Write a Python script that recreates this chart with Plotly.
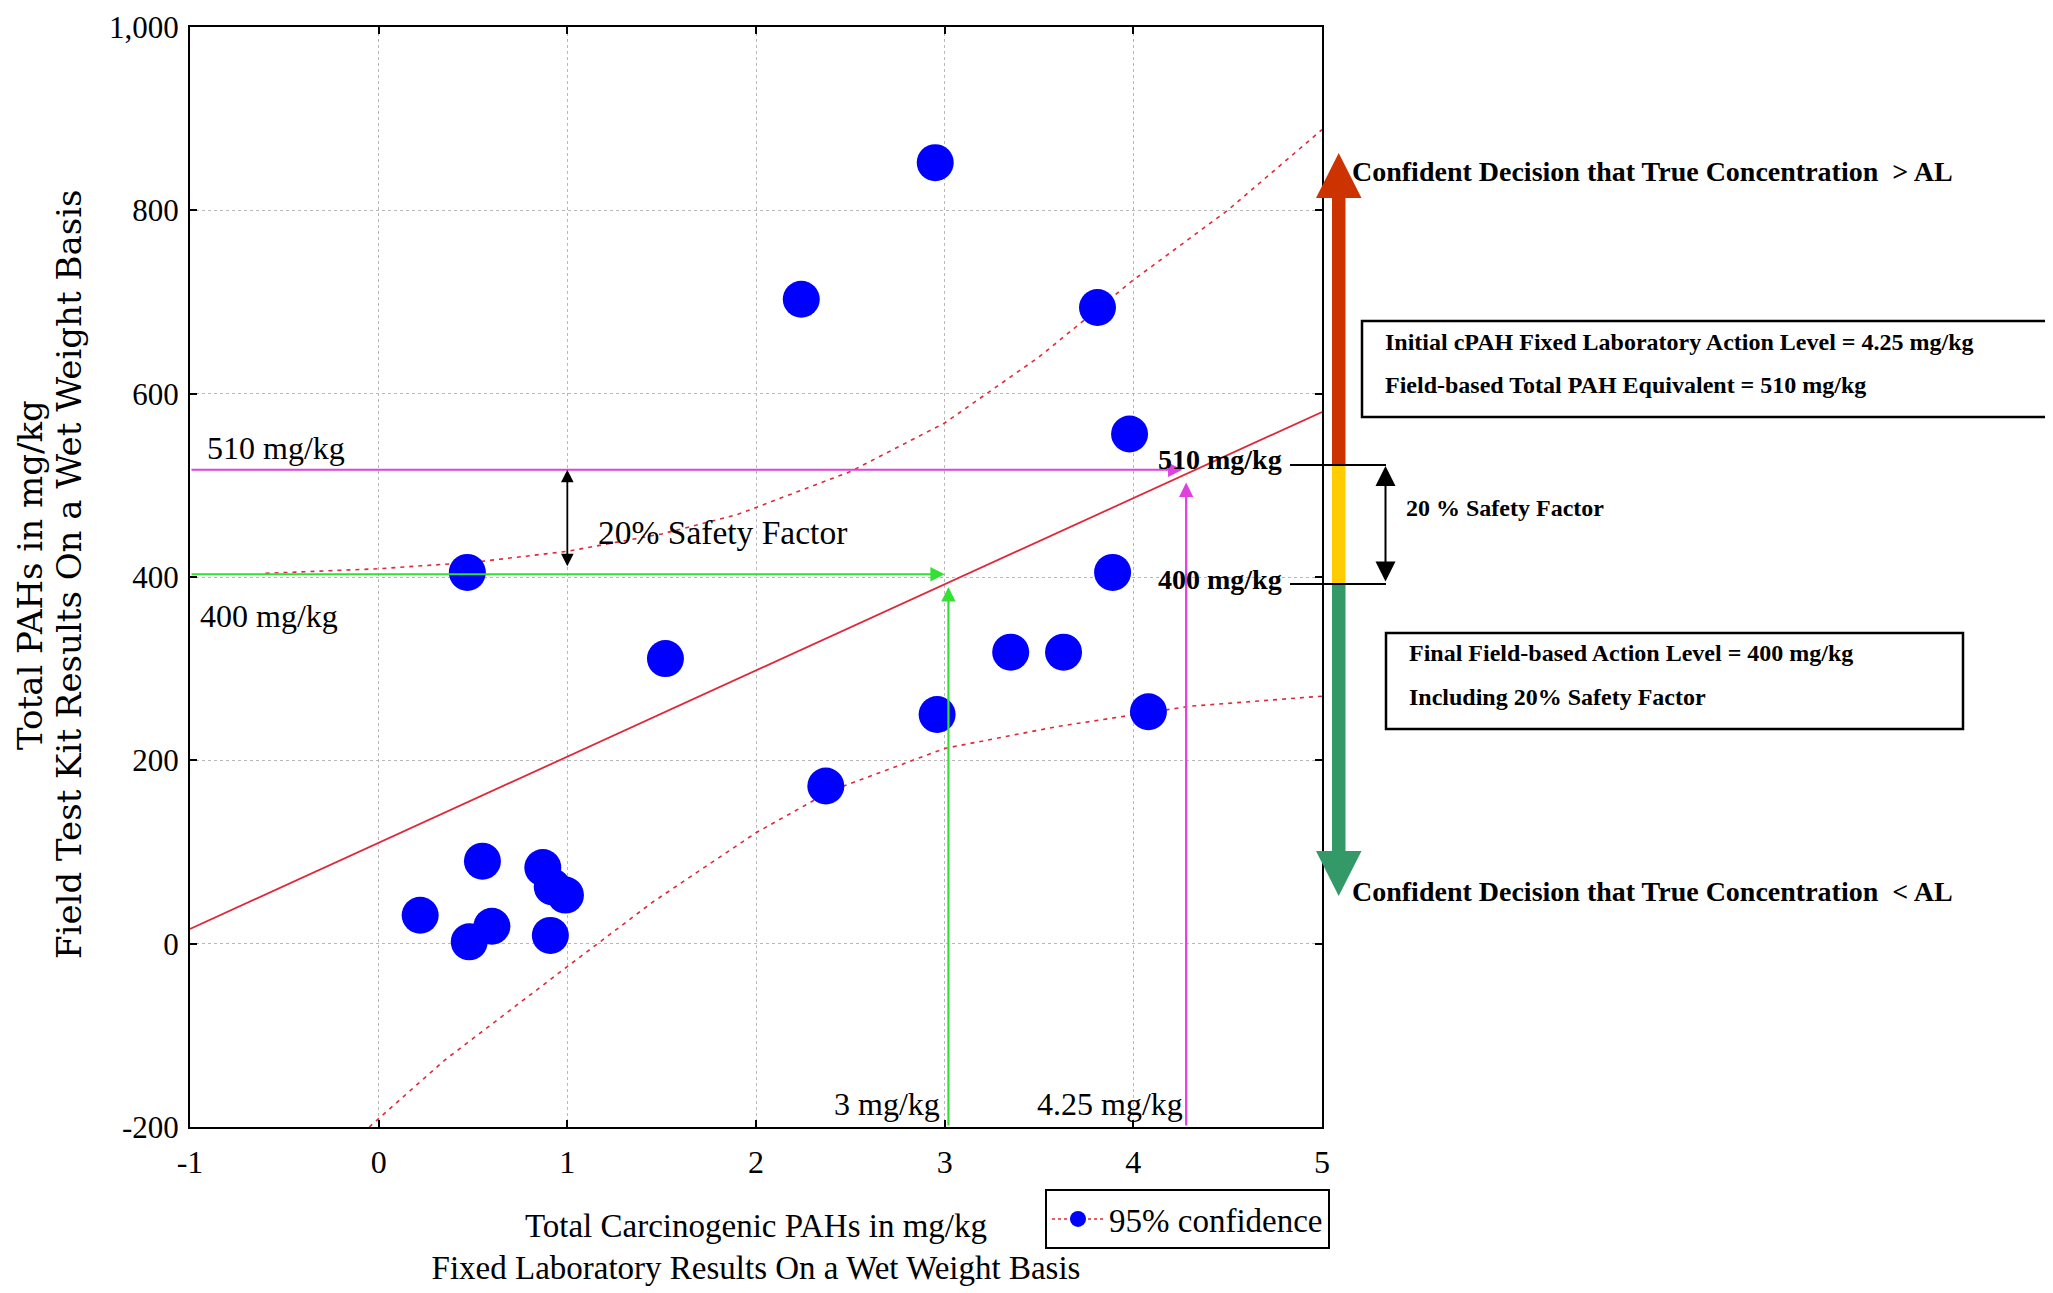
import plotly.graph_objects as go

# ---------------- data ----------------
lab_cpah = [2.95, 2.24, 3.81, 3.98, 0.47, 3.89, 1.52, 3.35, 3.63, 2.96,
            4.08, 2.37, 0.55, 0.87, 0.92, 0.99, 0.22, 0.60, 0.48, 0.91]
field_pah = [852, 703, 694, 556, 405, 405, 311, 318, 318, 250,
             253, 172, 90, 83, 62, 53, 31, 19, 2, 9]

fit_x = [-1, 5]
fit_y = [16, 580]

upper_x = [-0.6, 0.0, 0.5, 1.0, 1.5, 1.9, 2.5, 3.0, 3.5, 4.0, 4.5, 5.0]
upper_y = [404, 409, 416, 428, 447, 468, 515, 568, 640, 724, 800, 888]

lower_x = [-0.05, 0.35, 1.0, 1.45, 2.0, 2.4, 3.0, 3.6, 4.3, 5.0]
lower_y = [-200, -127, -25, 45, 121, 167, 213, 237, 259, 270]

# reference levels as drawn
field_levels = [517, 403]          # labelled 510 mg/kg and 400 mg/kg
field_level_labels = ["510 mg/kg", "400 mg/kg"]
lab_levels = [4.28, 3.02]          # labelled 4.25 mg/kg and 3 mg/kg
lab_level_labels = ["4.25 mg/kg", "3 mg/kg"]
safety_arrow_x = 1.0
safety_arrow_low = 410

x_ticks = [-1, 0, 1, 2, 3, 4, 5]
x_tick_text = ["-1", "0", "1", "2", "3", "4", "5"]
y_ticks = [-200, 0, 200, 400, 600, 800, 1000]
y_tick_text = ["-200", "0", "200", "400", "600", "800", "1,000"]

# ---------------- layout helpers ----------------
W, H = 2053, 1293
OFF = 8  # page body margin
def px(X):
    return (X - OFF) / W
def py(Y):
    return 1 - (Y - OFF) / H

SERIF = "Liberation Serif, Times New Roman, serif"
MAG = "#e040e0"
GRN = "#33e033"
RED = "#dd2a3a"

fig = go.Figure()

fig.add_trace(go.Scatter(x=upper_x, y=upper_y, mode="lines",
                         line=dict(color=RED, width=1.6, dash="4px,5px"),
                         showlegend=False, hoverinfo="skip"))
fig.add_trace(go.Scatter(x=lower_x, y=lower_y, mode="lines",
                         line=dict(color=RED, width=1.6, dash="4px,5px"),
                         showlegend=False, hoverinfo="skip"))
fig.add_trace(go.Scatter(x=fit_x, y=fit_y, mode="lines",
                         line=dict(color=RED, width=1.8),
                         showlegend=False, hoverinfo="skip"))
fig.add_trace(go.Scatter(x=lab_cpah, y=field_pah, mode="markers",
                         marker=dict(color="#0000ff", size=37),
                         showlegend=False))
# legend entry
fig.add_trace(go.Scatter(x=[None], y=[None], mode="lines+markers",
                         name="95% confidence",
                         line=dict(color=RED, width=1.5, dash="dot"),
                         marker=dict(color="#0000ff", size=16)))

annotations = []
h_colors = [MAG, GRN]
for lvl, lx, col in zip(field_levels, lab_levels, h_colors):
    annotations.append(dict(x=lx - 0.02, y=lvl, ax=-1, ay=lvl, xref="x", yref="y",
                            axref="x", ayref="y", text="", showarrow=True,
                            arrowhead=2, arrowsize=1.3, arrowwidth=2.2,
                            arrowcolor=col))
    annotations.append(dict(x=lx, y=lvl - 14, ax=lx, ay=-200, xref="x", yref="y",
                            axref="x", ayref="y", text="", showarrow=True,
                            arrowhead=2, arrowsize=1.3, arrowwidth=2.2,
                            arrowcolor=col))
annotations.append(dict(x=safety_arrow_x, y=field_levels[0], ax=safety_arrow_x,
                        ay=safety_arrow_low, xref="x", yref="y", axref="x", ayref="y",
                        text="", showarrow=True, arrowhead=2, arrowsize=1.4,
                        arrowwidth=1.8, arrowside="end+start", arrowcolor="black"))

fs = 32
annotations += [
    dict(x=-0.92, y=541, xref="x", yref="y", text=field_level_labels[0], showarrow=False,
         xanchor="left", yanchor="middle", font=dict(family=SERIF, size=fs, color="black")),
    dict(x=-0.955, y=357, xref="x", yref="y", text=field_level_labels[1], showarrow=False,
         xanchor="left", yanchor="middle", font=dict(family=SERIF, size=fs, color="black")),
    dict(x=1.15, y=449, xref="x", yref="y", text="20% Safety Factor", showarrow=False,
         xanchor="left", yanchor="middle", font=dict(family=SERIF, size=33.5, color="black")),
    dict(x=lab_levels[1], y=-175, xref="x", yref="y", text=lab_level_labels[1], showarrow=False,
         xanchor="right", yanchor="middle", xshift=-6,
         font=dict(family=SERIF, size=fs, color="black")),
    dict(x=lab_levels[0], y=-175, xref="x", yref="y", text=lab_level_labels[0], showarrow=False,
         xanchor="right", yanchor="middle", xshift=-1,
         font=dict(family=SERIF, size=fs, color="black")),
]

bfs = 28
bold = lambda s: dict(family=SERIF, size=s, color="black", weight="bold")
annotations += [
    dict(x=px(1284), y=py(459), xref="paper", yref="paper", text="510 mg/kg", showarrow=False,
         xanchor="right", yanchor="middle", font=bold(bfs)),
    dict(x=px(1284), y=py(579), xref="paper", yref="paper", text="400 mg/kg", showarrow=False,
         xanchor="right", yanchor="middle", font=bold(bfs)),
    dict(x=px(1404), y=py(508), xref="paper", yref="paper", text="20 % Safety Factor", showarrow=False,
         xanchor="left", yanchor="middle", font=bold(24)),
    dict(x=px(1350), y=py(172), xref="paper", yref="paper",
         text="Confident Decision that True Concentration&nbsp; &gt; AL", showarrow=False,
         xanchor="left", yanchor="middle", font=bold(bfs)),
    dict(x=px(1350), y=py(892), xref="paper", yref="paper",
         text="Confident Decision that True Concentration&nbsp; &lt; AL", showarrow=False,
         xanchor="left", yanchor="middle", font=bold(bfs)),
    dict(x=px(1383), y=py(342), xref="paper", yref="paper",
         text="Initial cPAH Fixed Laboratory Action Level = 4.25 mg/kg", showarrow=False,
         xanchor="left", yanchor="middle", font=bold(24)),
    dict(x=px(1383), y=py(385), xref="paper", yref="paper",
         text="Field-based Total PAH Equivalent = 510 mg/kg", showarrow=False,
         xanchor="left", yanchor="middle", font=bold(24)),
    dict(x=px(1407), y=py(653), xref="paper", yref="paper",
         text="Final Field-based Action Level = 400 mg/kg", showarrow=False,
         xanchor="left", yanchor="middle", font=bold(24)),
    dict(x=px(1407), y=py(697), xref="paper", yref="paper",
         text="Including 20% Safety Factor", showarrow=False,
         xanchor="left", yanchor="middle", font=bold(24)),
    dict(x=px(1385.5), y=py(466), xref="paper", yref="paper", ax=0, ay=117,
         text="", showarrow=True, arrowhead=2, arrowsize=2, arrowwidth=2,
         arrowside="end+start", arrowcolor="black"),
    dict(x=px(30), y=py(575), xref="paper", yref="paper", text="Total PAHs in mg/kg",
         textangle=-90, showarrow=False, xanchor="center", yanchor="middle",
         font=dict(family="DejaVu Serif, serif", size=34, color="black")),
    dict(x=px(69), y=py(575), xref="paper", yref="paper",
         text="Field Test Kit Results On a Wet Weight Basis",
         textangle=-90, showarrow=False, xanchor="center", yanchor="middle",
         font=dict(family="DejaVu Serif, serif", size=34, color="black")),
]

shapes = []
def rect(x0, y0, x1, y1, color):
    shapes.append(dict(type="rect", xref="paper", yref="paper",
                       x0=px(x0), x1=px(x1), y0=py(y1), y1=py(y0),
                       fillcolor=color, line=dict(width=0), layer="above"))
def tri(pts, color):
    path = "M " + " L ".join(f"{px(a):.5f},{py(b):.5f}" for a, b in pts) + " Z"
    shapes.append(dict(type="path", xref="paper", yref="paper", path=path,
                       fillcolor=color, line=dict(width=0), layer="above"))

rect(1332, 196, 1345.5, 466, "#cc3300")
rect(1332, 465, 1345.5, 584, "#ffcc00")
rect(1332, 584, 1345.5, 853, "#339966")
tri([(1316, 198), (1361.5, 198), (1338.7, 153)], "#cc3300")
tri([(1316, 851), (1361.5, 851), (1338.7, 896)], "#339966")
for Y in (465, 584):
    shapes.append(dict(type="line", xref="paper", yref="paper",
                       x0=px(1290), x1=px(1386), y0=py(Y), y1=py(Y),
                       line=dict(color="black", width=2.2), layer="above"))
shapes.append(dict(type="rect", xref="paper", yref="paper",
                   x0=px(1362), x1=px(2080), y0=py(417), y1=py(321),
                   line=dict(color="black", width=2.5)))
shapes.append(dict(type="rect", xref="paper", yref="paper",
                   x0=px(1386), x1=px(1963), y0=py(729), y1=py(633),
                   line=dict(color="black", width=2.5)))

axis_common = dict(showline=True, linecolor="black", linewidth=2, mirror="ticks",
                   ticks="inside", ticklen=7, tickcolor="black", tickwidth=1.5,
                   showgrid=True, gridcolor="#b8b8b8", griddash="dot", gridwidth=1,
                   zeroline=False, ticklabeloverflow="allow")

fig.update_layout(
    width=W, height=H,
    margin=dict(l=0, r=0, t=0, b=0),
    paper_bgcolor="white", plot_bgcolor="white",
    xaxis=dict(domain=[px(190), px(1322)], range=[-1, 5], tickvals=x_ticks,
               ticktext=x_tick_text, automargin=False, ticklabelstandoff=6,
               tickfont=dict(family=SERIF, size=32, color="black"),
               title=dict(text="Total Carcinogenic PAHs in mg/kg<br>Fixed Laboratory Results On a Wet Weight Basis",
                          font=dict(family=SERIF, size=33, color="black"), standoff=34),
               **axis_common),
    yaxis=dict(domain=[py(1127), py(27)], range=[-200, 1000], tickvals=y_ticks,
               ticktext=y_tick_text, automargin=False, ticklabelstandoff=3,
               tickfont=dict(family=SERIF, size=31, color="black"), **axis_common),
    legend=dict(x=px(1045), y=py(1189), xanchor="left", yanchor="top",
                bordercolor="black", borderwidth=2, bgcolor="white",
                font=dict(family=SERIF, size=33, color="black"),
                itemwidth=52, tracegroupgap=0),
    showlegend=True,
    annotations=annotations,
    shapes=shapes,
)

fig.write_html("out.html")
